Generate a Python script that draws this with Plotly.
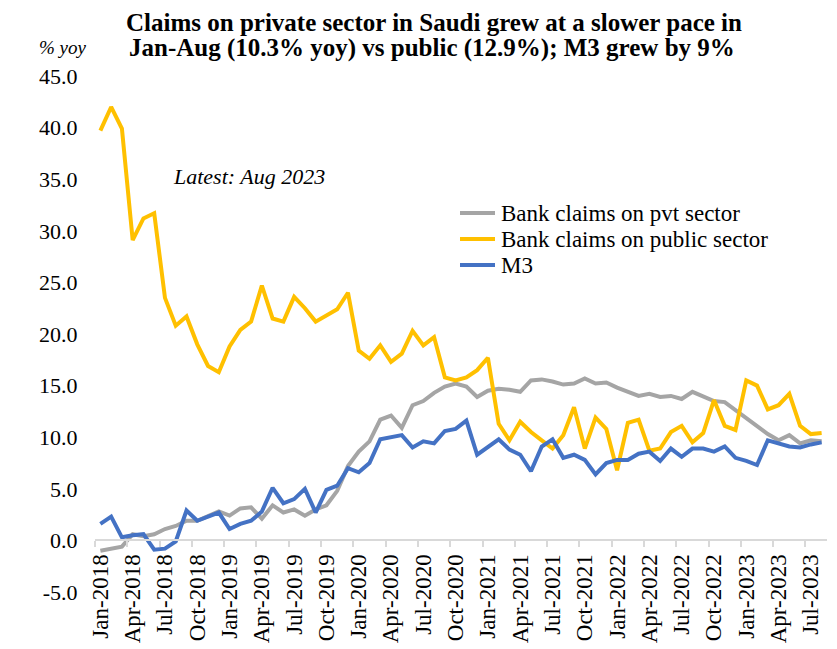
import plotly.graph_objects as go

months = ["Jan", "Feb", "Mar", "Apr", "May", "Jun", "Jul", "Aug", "Sep", "Oct", "Nov", "Dec"]
dates = [f"{m}-{y}" for y in range(2018, 2024) for m in months][:68]

pvt = [-1.0, -0.8, -0.6, 0.6, 0.4, 0.6, 1.1, 1.4, 1.9, 1.9, 2.4, 2.8,
       2.4, 3.1, 3.2, 2.1, 3.4, 2.7, 3.0, 2.4, 3.0, 3.4, 4.8, 7.2,
       8.6, 9.6, 11.7, 12.1, 10.9, 13.1, 13.5, 14.3, 14.9, 15.2, 14.9, 13.9,
       14.5, 14.7, 14.6, 14.4, 15.5, 15.6, 15.4, 15.1, 15.2, 15.7, 15.2, 15.3,
       14.8, 14.4, 14.0, 14.2, 13.9, 14.0, 13.7, 14.4, 13.9, 13.5, 13.4, 12.6,
       11.8, 11.0, 10.3, 9.7, 10.2, 9.4, 9.7, 9.6]

public = [39.7, 42.0, 39.9, 29.1, 31.2, 31.7, 23.5, 20.8, 21.7, 19.0, 16.9, 16.3,
          18.8, 20.4, 21.2, 24.7, 21.5, 21.2, 23.6, 22.5, 21.2, 21.8, 22.4, 24.0,
          18.4, 17.6, 18.9, 17.3, 18.1, 20.3, 18.9, 19.7, 15.8, 15.5, 15.8, 16.5,
          17.7, 11.3, 9.7, 11.5, 10.5, 9.7, 8.9, 10.2, 12.9, 8.9, 11.9, 10.8,
          6.8, 11.4, 11.7, 8.7, 8.9, 10.5, 11.1, 9.5, 10.4, 13.6, 11.1, 10.7,
          15.5, 15.0, 12.7, 13.1, 14.2, 11.1, 10.3, 10.4]

m3 = [1.6, 2.3, 0.3, 0.5, 0.6, -0.9, -0.8, -0.1, 2.9, 1.9, 2.3, 2.7,
      1.1, 1.6, 1.9, 2.8, 5.1, 3.6, 4.0, 5.0, 2.7, 4.9, 5.3, 7.0,
      6.6, 7.5, 9.8, 10.0, 10.2, 9.0, 9.6, 9.4, 10.6, 10.8, 11.6, 8.3,
      9.0, 9.8, 8.8, 8.3, 6.7, 9.1, 9.8, 8.0, 8.3, 7.8, 6.4, 7.5,
      7.8, 7.8, 8.4, 8.6, 7.7, 8.9, 8.1, 8.9, 8.9, 8.6, 9.1, 8.0,
      7.7, 7.3, 9.7, 9.4, 9.1, 9.0, 9.3, 9.5]

series_names = ["Bank claims on pvt sector", "Bank claims on public sector", "M3"]
series_colors = ["#A5A5A5", "#FFC000", "#4472C4"]
title_lines = ["Claims on private sector in Saudi grew at a slower pace in",
               "Jan-Aug (10.3% yoy) vs public (12.9%); M3 grew by 9%"]
y_ticks = [-5, 0, 5, 10, 15, 20, 25, 30, 35, 40, 45]
y_tick_text = [f"{v:.1f}" for v in y_ticks]  # plain hyphen minus like the original

x = list(range(len(dates)))
tick_idx = list(range(0, len(dates), 3))
tick_text = [dates[i] for i in tick_idx]

FONT = "Liberation Serif"
W, H = 837, 649
L, R, T, B = 95, 10, 76, 57
PW, PH = W - L - R, H - T - B


def px_x(px):
    return (px - L) / PW


def px_y(py):
    return (H - B - py) / PH


fig = go.Figure()
for name, vals, col in zip(series_names, [pvt, public, m3], series_colors):
    fig.add_trace(go.Scatter(x=x, y=vals, mode="lines", name=name,
                             line=dict(color=col, width=4),
                             hovertext=dates, showlegend=False))

annotations = [
    dict(text=f"<b>{title_lines[0]}</b>", xref="paper", yref="paper", x=px_x(434), y=px_y(22),
         xanchor="center", yanchor="middle", showarrow=False, font=dict(family=FONT, size=25)),
    dict(text=f"<b>{title_lines[1]}</b>", xref="paper", yref="paper", x=px_x(432), y=px_y(48),
         xanchor="center", yanchor="middle", showarrow=False, font=dict(family=FONT, size=25)),
    dict(text="<i>% yoy</i>", xref="paper", yref="paper", x=px_x(37), y=px_y(48),
         xanchor="left", yanchor="middle", showarrow=False, font=dict(family=FONT, size=19)),
    dict(text="<i>Latest: Aug 2023</i>", xref="paper", yref="paper", x=px_x(171),
         y=px_y(176), xanchor="left", yanchor="middle", showarrow=False,
         font=dict(family=FONT, size=22)),
]
shapes = []
legend_rows = [213, 239, 265]
for name, col, ry in zip(series_names, series_colors, legend_rows):
    shapes.append(dict(type="line", xref="paper", yref="paper",
                       x0=px_x(460), x1=px_x(495), y0=px_y(ry), y1=px_y(ry),
                       line=dict(color=col, width=4)))
    annotations.append(dict(text=name, xref="paper", yref="paper", x=px_x(499), y=px_y(ry),
                            xanchor="left", yanchor="middle", showarrow=False,
                            font=dict(family=FONT, size=23)))

fig.update_layout(
    width=W, height=H,
    margin=dict(l=L, r=R, t=T, b=B, autoexpand=False),
    paper_bgcolor="white", plot_bgcolor="white",
    font=dict(family=FONT, size=22, color="black"),
    showlegend=False,
    xaxis=dict(range=[-0.5, len(dates) - 0.5], tickmode="array", tickvals=tick_idx,
               ticktext=tick_text, tickangle=-90, showgrid=False, zeroline=False,
               showline=True, linecolor="#D9D9D9", linewidth=1.5,
               anchor="free", position=0.1, automargin=False,
               ticks="outside", ticklen=4, tickcolor="rgba(0,0,0,0)",
               minor=dict(tickmode="array", tickvals=[i - 0.5 for i in tick_idx],
                          ticks="outside", ticklen=6, tickcolor="#D9D9D9", tickwidth=1.5),
               tickfont=dict(family=FONT, size=23)),
    yaxis=dict(range=[-5, 45], tickmode="array", tickvals=y_ticks, ticktext=y_tick_text,
               showgrid=False, zeroline=False, showline=False, ticks="outside", ticklen=12,
               automargin=False, tickcolor="rgba(0,0,0,0)", tickfont=dict(family=FONT, size=22)),
    annotations=annotations,
    shapes=shapes,
)

fig.write_html("out.html")
